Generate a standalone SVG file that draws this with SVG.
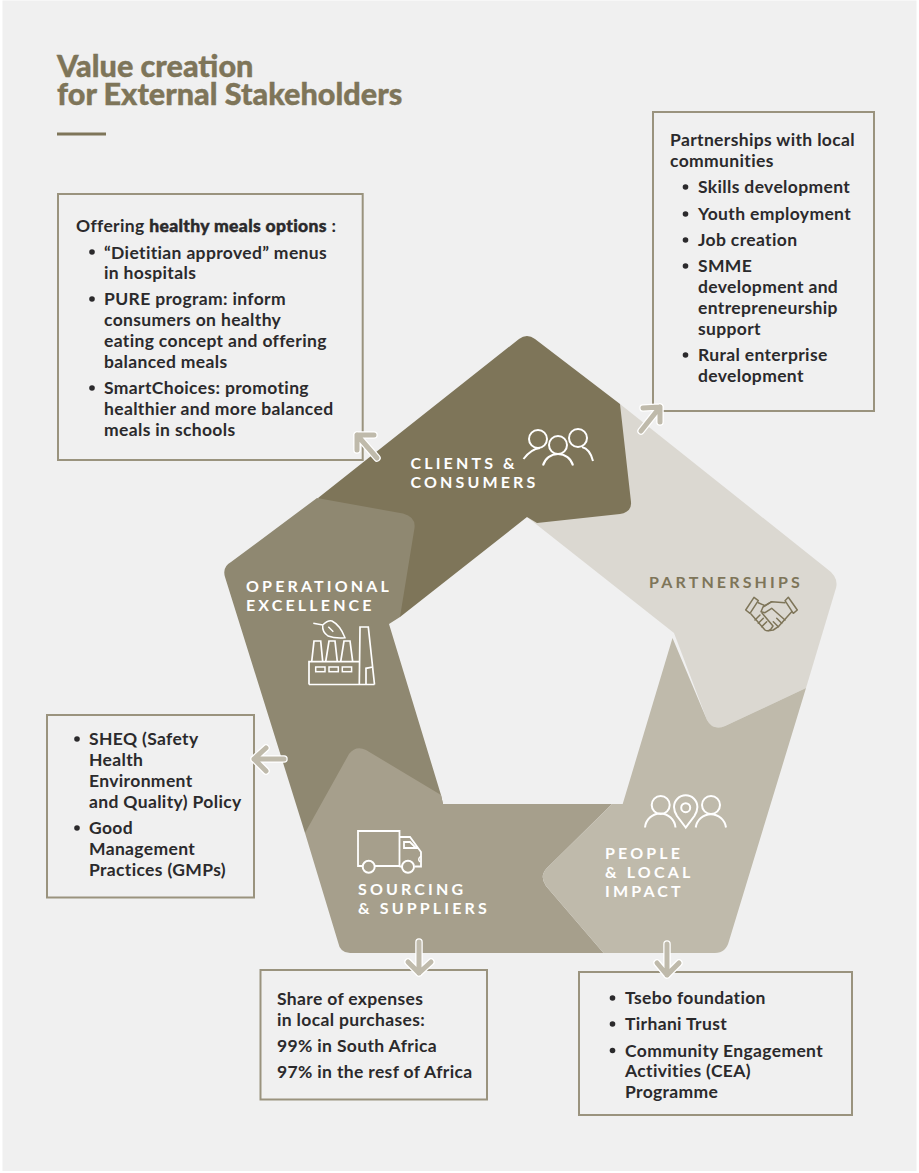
<svg xmlns="http://www.w3.org/2000/svg" width="919" height="1173" viewBox="0 0 919 1173">
<style>
.t{font-family:"Lato","Noto Sans",sans-serif;font-weight:700;font-size:17.500px;letter-spacing:.35px;fill:#2b2a2c}
.r{font-weight:900;stroke:#2b2a2c;stroke-width:.45}
.h{font-family:"Lato","Noto Sans",sans-serif;font-weight:900;font-size:30.600px;fill:#7e7559;stroke:#7e7559;stroke-width:.4}
.l{font-family:"Lato","Noto Sans",sans-serif;font-weight:700;font-size:16px;letter-spacing:3.150px;fill:#fff}
.box{fill:none;stroke:#9a937e;stroke-width:2}
.ic{fill:none;stroke:#fff;stroke-width:2}
.ic2{fill:none;stroke:#7e7559;stroke-width:1.500;stroke-linejoin:round;stroke-linecap:round}
.ah{fill:none;stroke:#fff;stroke-width:7.500;stroke-linecap:round;stroke-linejoin:round}
.as{fill:none;stroke:#bfbaab;stroke-width:5;stroke-linecap:round;stroke-linejoin:round}
</style>
<defs>
<circle id="b" r="2.800" fill="#2b2a2c"/>
<path id="a1" d="M377,458L357,435M357,450L357,435L374,435"/>
<path id="a2" d="M641,431L660,407M643,408L660,407L660,422"/>
<path id="a3" d="M284,759L254,759M266,748L254,759L266,771"/>
<path id="a4" d="M419,942L419,973M408,962L419,973L431,962"/>
<path id="a5" d="M667,944L667,975M657,963L667,975L679,963"/>
</defs>
<rect width="919" height="1173" fill="#fff"/>
<rect x="2.500" y="0.500" width="914" height="1170.500" fill="#f0f0f0"/>
<g id="title">
<text class="h" x="57" y="77">Value creation</text>
<text class="h" x="57" y="105">for External Stakeholders</text>
<rect x="57" y="132.500" width="49" height="3" fill="#7e7559"/>
</g>
<g id="node-partnerships">
<path fill="#dbd8d1" d="M620,404L826,568Q839,577 836,588L806,688L725,726Q713,731 707,720L674,633L527,517Z"/>
<text class="l" x="649" y="588" style="fill:#7e7559">PARTNERSHIPS</text>
<g class="ic2">
<path d="M745.700,610L754,597.300L758.300,600.700L750,613.300Z"/>
<path d="M788.300,597.300L797.300,610L793.300,613.300L785,600.700Z"/>
<path d="M758.300,602.700L765,605.700L771.700,601.700L785,602.700"/>
<path d="M771.700,601.700L763,607L761,611.700L765,612.700L771.700,608.300L785,620"/>
<path d="M791.700,611.700L778.300,626.700L773.300,630L768.300,630.700"/>
<path d="M776.700,618.300L781.700,623.300M773.300,621.700L778.300,626.700"/>
<path d="M751,614L765,630Q768,632 771,629L773,626L762,613"/>
<path d="M755,620L760,615M758.300,623.300L763.300,618.300M761.700,626.700L766.700,621.700"/>
</g>
</g>
<g id="node-clients">
<path fill="#7e7559" d="M318,498L519,339Q527,333 535,339L620,404L631,502Q632,512 620,514L537,523L527,517L400,617Z"/>
<text class="l" x="410.500" y="469">CLIENTS &amp;</text>
<text class="l" x="410.500" y="488">CONSUMERS</text>
<g class="ic">
<circle cx="538" cy="439" r="9"/><circle cx="558" cy="445" r="9"/><circle cx="578" cy="438" r="9"/>
<path d="M523.500,459Q531,449 540,448M543,465.500A15.500,15.500 0 0 1 573,465.500M582,447Q590,449 593,461"/>
</g>
</g>
<g id="node-operational">
<path fill="#8f8871" d="M317,498L403,513.500Q416,517 414.500,528L400,617L389,624L441,795L443,804L400,850L305,833L225,577Q222,567 231,562Z"/>
<text class="l" x="246" y="592">OPERATIONAL</text>
<text class="l" x="246" y="611">EXCELLENCE</text>
<g class="ic" stroke-width="1.700">
<path d="M374.500,684.500L368.300,627H360L359.300,684.500M309,684.500H374.500M309,684.500V661.700H359.300M311.700,661.700L314,641H320.700L322.700,661.700M325.700,661.700L329,641H335L337.300,661.700M340.700,661.700L344,641H350L352.700,661.700M366,684.500V668.300L372.700,667" stroke-width="1.700"/>
<rect x="315.700" y="667" width="9.300" height="4.700" stroke-width="1.500"/><rect x="329" y="667" width="9.300" height="4.700" stroke-width="1.500"/><rect x="342.300" y="667" width="9.300" height="4.700" stroke-width="1.500"/>
<path d="M313.300,623.300L322.700,625Q328,620 332,621Q340,625 345,637.700Q335,638.500 328,636Q322,632 322.700,625M328.300,626.700L333.300,631.700" stroke-width="1.500"/>
</g>
</g>
<g id="node-sourcing">
<path fill="#a69f8c" d="M305,833L349,754Q356,745 366,750L441,795L443,804L612,804L547,868Q539,876 546,886L603.500,953L350,953Q340,953 338,942Z"/>
<text class="l" x="358" y="895">SOURCING</text>
<text class="l" x="358" y="914">&amp; SUPPLIERS</text>
<g class="ic">
<path d="M362.500,866H358V831H399.500V866H375M399.500,837H410L421,852V866.500H415M399.500,866.500H402M404,842H410L416,848H404Z" stroke-width="1.800"/>
<circle cx="368.700" cy="866.700" r="6"/><circle cx="408" cy="866.700" r="6"/>
<path d="M421,856Q417,859 420,862" stroke-width="1.500"/>
</g>
</g>
<g id="node-people">
<path fill="#bfbaab" d="M672.500,638L707,720Q713,731 725,726L806,688L729,941Q726,953 715,953L603.500,953L546,886Q539,876 547,868L612,804L622.700,804Z"/>
<text class="l" x="605" y="859">PEOPLE</text>
<text class="l" x="605" y="878">&amp; LOCAL</text>
<text class="l" x="605" y="897">IMPACT</text>
<g class="ic">
<circle cx="660.700" cy="805" r="9"/><circle cx="711" cy="805" r="9"/>
<path d="M645,827.500A15.300,15.300 0 0 1 675.500,827.500M695.700,827.500A15.300,15.300 0 0 1 726,827.500"/>
<path d="M685.700,827.500L677,816Q674,811 674,807A11.700,11.700 0 0 1 697.400,807Q697.400,811 694.400,816Z"/>
<circle cx="685.700" cy="807.700" r="4.500"/>
</g>
</g>
<g id="box-meals">
<rect class="box" x="58" y="194" width="304.700" height="266"/>
<text class="t" x="76" y="232">Offering <tspan class="r">healthy meals options</tspan> :</text>
<use href="#b" x="92" y="252"/><use href="#b" x="92" y="299"/><use href="#b" x="92" y="388"/>
<text class="t" x="104" y="258.500">“Dietitian approved” menus</text>
<text class="t" x="104" y="279">in hospitals</text>
<text class="t" x="104" y="305">PURE program: inform</text>
<text class="t" x="104" y="326">consumers on healthy</text>
<text class="t" x="104" y="347">eating concept and offering</text>
<text class="t" x="104" y="368">balanced meals</text>
<text class="t" x="104" y="394">SmartChoices: promoting</text>
<text class="t" x="104" y="415">healthier and more balanced</text>
<text class="t" x="104" y="436">meals in schools</text>
</g>
<g id="box-partnerships">
<rect class="box" x="653" y="112" width="221" height="299"/>
<text class="t" x="670" y="146">Partnerships with local</text>
<text class="t" x="670" y="167">communities</text>
<use href="#b" x="685.500" y="187"/><use href="#b" x="685.500" y="214"/><use href="#b" x="685.500" y="240"/><use href="#b" x="685.500" y="266"/><use href="#b" x="685.500" y="355"/>
<text class="t" x="698" y="193">Skills development</text>
<text class="t" x="698" y="220">Youth employment</text>
<text class="t" x="698" y="246">Job creation</text>
<text class="t" x="698" y="272">SMME</text>
<text class="t" x="698" y="293">development and</text>
<text class="t" x="698" y="314">entrepreneurship</text>
<text class="t" x="698" y="335">support</text>
<text class="t" x="698" y="361">Rural enterprise</text>
<text class="t" x="698" y="382">development</text>
</g>
<g id="box-operational">
<rect class="box" x="47" y="715" width="207" height="182.500"/>
<use href="#b" x="77" y="739"/><use href="#b" x="77" y="828"/>
<text class="t" x="89" y="745">SHEQ (Safety</text>
<text class="t" x="89" y="766">Health</text>
<text class="t" x="89" y="787">Environment</text>
<text class="t" x="89" y="808">and Quality) Policy</text>
<text class="t" x="89" y="834">Good</text>
<text class="t" x="89" y="855">Management</text>
<text class="t" x="89" y="876">Practices (GMPs)</text>
</g>
<g id="box-sourcing">
<rect class="box" x="260.500" y="970" width="226.500" height="129.500"/>
<text class="t" x="277" y="1005">Share of expenses</text>
<text class="t" x="277" y="1026">in local purchases:</text>
<text class="t" x="277" y="1052">99% in South Africa</text>
<text class="t" x="277" y="1078">97% in the resf of Africa</text>
</g>
<g id="box-people">
<rect class="box" x="579" y="972" width="273" height="143"/>
<use href="#b" x="612.500" y="998"/><use href="#b" x="612.500" y="1024"/><use href="#b" x="612.500" y="1050.500"/>
<text class="t" x="625" y="1004">Tsebo foundation</text>
<text class="t" x="625" y="1030">Tirhani Trust</text>
<text class="t" x="625" y="1056.500">Community Engagement</text>
<text class="t" x="625" y="1077">Activities (CEA)</text>
<text class="t" x="625" y="1098">Programme</text>
</g>
<g id="connectors">
<use href="#a1" class="ah"/><use href="#a1" class="as"/>
<use href="#a2" class="ah"/><use href="#a2" class="as"/>
<use href="#a3" class="ah"/><use href="#a3" class="as"/>
<use href="#a4" class="ah"/><use href="#a4" class="as"/>
<use href="#a5" class="ah"/><use href="#a5" class="as"/>
</g>
</svg>
